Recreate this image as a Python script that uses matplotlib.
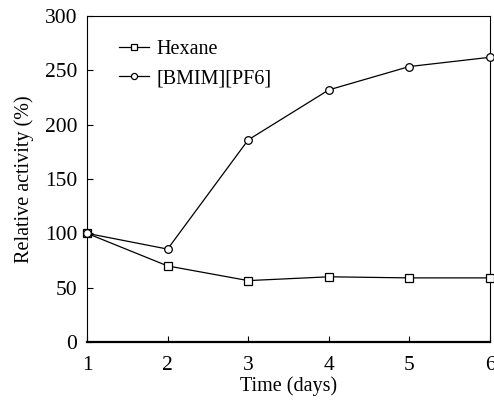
import matplotlib
matplotlib.use("Agg")
import matplotlib.pyplot as plt

days = [1, 2, 3, 4, 5, 6]
hexane = [100, 70, 56.5, 60, 59, 59]
bmim = [100, 85.5, 186, 232, 253.5, 262]

plt.rcParams["font.family"] = ["Liberation Serif", "DejaVu Serif"]
plt.rcParams["font.size"] = 14.5

fig = plt.figure(figsize=(4.94, 4.03), dpi=100)
ax = fig.add_axes([87 / 494, 1 - 342 / 403, (490 - 87) / 494, (342 - 16) / 403])

ax.plot(days, hexane, color="black", lw=0.9, marker="s", ms=5.5,
        mfc="white", mec="black", mew=0.9, label="Hexane", clip_on=False, zorder=3)
ax.plot(days, bmim, color="black", lw=0.9, marker="o", ms=5.5,
        mfc="white", mec="black", mew=0.9, label="[BMIM][PF6]", clip_on=False, zorder=3)

ax.set_xlim(1, 6)
ax.set_ylim(0, 300)
ax.set_xticks(days)
ax.set_yticks(range(0, 301, 50))
ax.tick_params(direction="in", length=4, width=0.8, labelsize=15.5)
ax.tick_params(axis="x", pad=10)
ax.tick_params(axis="y", pad=7)
for s in ax.spines.values():
    s.set_linewidth(0.8)
ax.spines["bottom"].set_linewidth(1.6)

ax.set_xlabel("Time (days)", labelpad=1)
ax.set_ylabel("Relative activity (%)", labelpad=8)

ax.legend(loc="upper left", frameon=False, handlelength=1.5, handletextpad=0.35,
          borderaxespad=0, borderpad=0, labelspacing=0.5, markerscale=0.8,
          bbox_to_anchor=(0.079, 0.926))

fig.savefig("out.png", dpi=100)
